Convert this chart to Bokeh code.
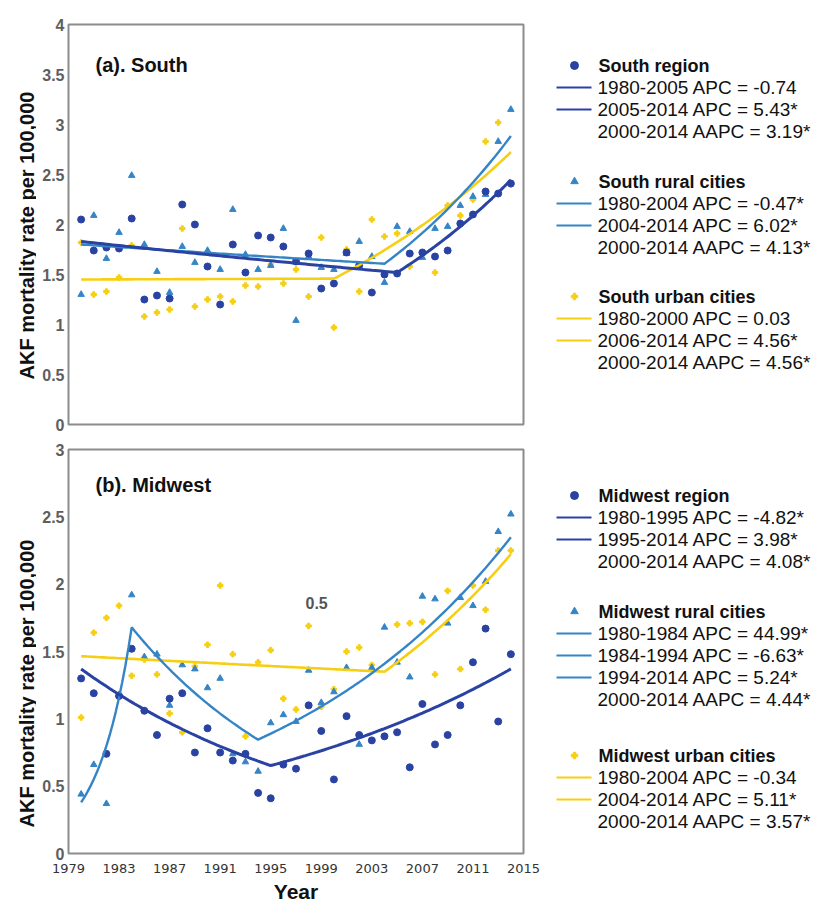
import math
import numpy as np
from bokeh.plotting import figure
from bokeh.models import Range1d, FixedTicker, CustomJSTickFormatter, Label
from bokeh.layouts import row, column
from bokeh.embed import file_html
from bokeh.resources import INLINE
from bokeh.core.properties import value

# ---------------------------------------------------------------- data
years = list(range(1980, 2015))

south_region = [2.05, 1.74, 1.77, 1.76, 2.06, 1.25, 1.29, 1.26, 2.20, 2.00,
                1.58, 1.20, 1.80, 1.52, 1.89, 1.87, 1.78, 1.63, 1.71, 1.36,
                1.41, 1.72, 1.59, 1.32, 1.50, 1.51, 1.71, 1.72, 1.68, 1.74,
                2.01, 2.10, 2.33, 2.31, 2.41]
south_rural = [1.30, 2.09, 1.66, 1.92, 2.49, 1.80, 1.53, 1.32, 1.78, 1.62,
               1.74, 1.55, 2.15, 1.70, 1.55, 1.59, 1.96, 1.04, 1.68, 1.57,
               1.55, 1.71, 1.83, 1.68, 1.42, 1.98, 1.93, 1.67, 1.96, 1.98,
               2.19, 2.28, 2.30, 2.83, 3.15]
south_urban = [1.82, 1.30, 1.33, 1.47, 1.79, 1.08, 1.12, 1.15, 1.96, 1.18,
               1.25, 1.28, 1.23, 1.39, 1.38, 1.60, 1.41, 1.55, 1.28, 1.87,
               0.97, 1.75, 1.33, 2.05, 1.88, 1.91, 1.58, 1.72, 1.52, 2.19,
               2.09, 2.25, 2.83, 3.02, 2.40]

midwest_region = [1.30, 1.19, 0.74, 1.17, 1.52, 1.06, 0.88, 1.15, 1.19, 0.75,
                  0.93, 0.75, 0.69, 0.74, 0.45, 0.41, 0.66, 0.63, 1.10, 0.91,
                  0.55, 1.02, 0.88, 0.84, 0.87, 0.90, 0.64, 1.11, 0.81, 0.88,
                  1.10, 1.42, 1.67, 0.98, 1.48]
midwest_rural = [0.44, 0.66, 0.37, 1.18, 1.92, 1.46, 1.48, 1.10, 1.40, 1.37,
                 1.23, 1.30, 0.74, 0.68, 0.61, 0.97, 1.03, 0.98, 1.36, 1.12,
                 1.20, 1.38, 0.81, 1.38, 1.68, 1.42, 1.31, 1.91, 1.89, 1.71,
                 1.90, 1.84, 2.02, 2.39, 2.52]
midwest_urban = [1.01, 1.64, 1.75, 1.84, 1.32, 1.44, 1.33, 1.04, 0.90, 1.39,
                 1.55, 1.99, 1.48, 0.87, 1.42, 1.51, 1.15, 1.07, 1.69, 1.09,
                 1.22, 1.50, 1.53, 1.40, 0.87, 1.70, 1.71, 1.72, 1.33, 1.95,
                 1.37, 1.99, 1.81, 2.25, 2.25]

# joinpoint fits: fitted rate in 1980, then (start, end, APC %) per segment
south_region_fit = (1.83, [(1980, 2005, -0.74), (2005, 2014, 5.43)])
south_rural_fit = (1.80, [(1980, 2004, -0.47), (2004, 2014, 6.02)])
south_urban_fit = (1.45, [(1980, 2000, 0.03), (2000, 2014, 4.56)])
midwest_region_fit = (1.37, [(1980, 1995, -4.82), (1995, 2014, 3.98)])
midwest_rural_fit = (0.38, [(1980, 1984, 44.99), (1984, 1994, -6.63), (1994, 2014, 5.24)])
midwest_urban_fit = (1.465, [(1980, 2004, -0.34), (2004, 2014, 5.11)])

x_ticks = [1979, 1983, 1987, 1991, 1995, 1999, 2003, 2007, 2011, 2015]

south_legend = [
    ("circle", "South region", ["1980-2005 APC = -0.74", "2005-2014 APC = 5.43*"],
     "2000-2014 AAPC = 3.19*"),
    ("triangle", "South rural cities", ["1980-2004 APC = -0.47*", "2004-2014 APC = 6.02*"],
     "2000-2014 AAPC = 4.13*"),
    ("plus", "South urban cities", ["1980-2000 APC = 0.03", "2006-2014 APC = 4.56*"],
     "2000-2014 AAPC = 4.56*"),
]
midwest_legend = [
    ("circle", "Midwest region", ["1980-1995 APC = -4.82*", "1995-2014 APC = 3.98*"],
     "2000-2014 AAPC = 4.08*"),
    ("triangle", "Midwest rural cities",
     ["1980-1984 APC = 44.99*", "1984-1994 APC = -6.63*", "1994-2014 APC = 5.24*"],
     "2000-2014 AAPC = 4.44*"),
    ("plus", "Midwest urban cities", ["1980-2004 APC = -0.34", "2004-2014 APC = 5.11*"],
     "2000-2014 AAPC = 3.57*"),
]

y_title = "AKF mortality rate per 100,000"

# ---------------------------------------------------------------- style
DARK = "#2a43a3"
MID = "#3585c6"
YELLOW = "#f7cf12"
COLORS = {"circle": DARK, "triangle": MID, "plus": YELLOW}
MSIZE = {"circle": 7, "triangle": 6.5, "plus": 5.5}
FONT_NAME = "Liberation Sans"
FONT = value(FONT_NAME)
PAGE_H = 905
TITLE_W = 36                      # strip holding the rotated y titles
LEFT, FRAME_W, RIGHT = 32, 455, 27


def joinpoint_curve(start_value, segments, step=0.25):
    xs, ys = [], []
    v0 = start_value
    for t0, t1, apc in segments:
        ts = np.arange(t0, t1 + 1e-9, step)
        vals = v0 * (1 + apc / 100.0) ** (ts - t0)
        xs.extend(ts.tolist())
        ys.extend(vals.tolist())
        v0 = vals[-1]
    return xs, ys


def make_panel(title, ymax, height, top, bottom, frame_h, series, fits, show_x, title_drop):
    p = figure(width=LEFT + FRAME_W + RIGHT, height=height,
               x_range=Range1d(1979, 2015), y_range=Range1d(0, ymax),
               output_backend="svg", toolbar_location=None,
               min_border_left=LEFT, min_border_right=RIGHT,
               min_border_top=top, min_border_bottom=bottom)
    p.outline_line_color = "#8c8c8c"
    p.outline_line_width = 2
    p.grid.visible = False

    ya = p.yaxis[0]
    ya.ticker = FixedTicker(ticks=[i * 0.5 for i in range(int(ymax * 2) + 1)])
    ya.formatter = CustomJSTickFormatter(code="return tick.toString()")
    ya.major_label_text_font = FONT_NAME
    ya.major_label_text_font_style = "bold"
    ya.major_label_text_font_size = "16px"
    ya.major_label_text_color = "#5e5e5e"
    ya.major_tick_line_color = None
    ya.minor_tick_line_color = None
    ya.major_tick_out = 0
    ya.minor_tick_out = 0
    ya.axis_line_color = None
    ya.major_label_standoff = 4

    xa = p.xaxis[0]
    xa.axis_line_color = None
    xa.major_tick_line_color = None
    xa.minor_tick_line_color = None
    xa.major_tick_out = 0
    xa.minor_tick_out = 0
    if show_x:
        xa.ticker = FixedTicker(ticks=x_ticks)
        xa.formatter = CustomJSTickFormatter(code="return tick.toString()")
        xa.major_label_text_font = "DejaVu Sans"
        xa.major_label_text_font_size = "13px"
        xa.major_label_text_color = "#333333"
        xa.major_label_standoff = 10
        xa.axis_label = "Year"
        xa.axis_label_text_font = FONT_NAME
        xa.axis_label_text_font_style = "bold"
        xa.axis_label_text_font_size = "21px"
        xa.axis_label_text_color = "#111111"
        xa.axis_label_standoff = 4
    else:
        xa.ticker = FixedTicker(ticks=[])
        xa.major_label_text_font_size = "0px"

    region, rural, urban = series
    p.scatter(years, urban, marker="plus", size=MSIZE["plus"], color=YELLOW)
    p.scatter(years, rural, marker="triangle", size=MSIZE["triangle"], color=MID)
    p.scatter(years, region, marker="circle", size=MSIZE["circle"], color=DARK)

    fx, fy = joinpoint_curve(*fits[2])
    p.line(fx, fy, color=YELLOW, line_width=2.6)
    fx, fy = joinpoint_curve(*fits[1])
    p.line(fx, fy, color=MID, line_width=2.4)
    fx, fy = joinpoint_curve(*fits[0])
    p.line(fx, fy, color=DARK, line_width=3)

    p.add_layout(Label(x=27, y=frame_h - title_drop, x_units="screen", y_units="screen",
                       text=title, text_font=FONT_NAME, text_font_style="bold",
                       text_font_size="20px", text_color="#111111",
                       text_baseline="alphabetic"))
    return p


p1 = make_panel("(a). South", 4, 437, 24, 13, 400,
                (south_region, south_rural, south_urban),
                (south_region_fit, south_rural_fit, south_urban_fit), False, 40)

p2 = make_panel("(b). Midwest", 3, 468, 12, 52, 404,
                (midwest_region, midwest_rural, midwest_urban),
                (midwest_region_fit, midwest_rural_fit, midwest_urban_fit), True, 35)
p2.add_layout(Label(x=237, y=245, x_units="screen", y_units="screen",
                    text="0.5", text_font=FONT_NAME, text_font_style="bold",
                    text_font_size="16px", text_color="#555555"))

# ---------------------------------------------------------------- y-title strip
ttl = figure(width=TITLE_W, height=PAGE_H, x_range=Range1d(0, TITLE_W),
             y_range=Range1d(0, PAGE_H), output_backend="svg", toolbar_location=None,
             min_border=0, min_border_left=0, min_border_right=0,
             min_border_top=0, min_border_bottom=0)
ttl.axis.visible = False
ttl.grid.visible = False
ttl.outline_line_color = None
ttl.text([26, 26], [PAGE_H - 235, PAGE_H - 683], text=[y_title, y_title],
         angle=math.pi / 2, text_align="center", text_baseline="middle",
         text_font=FONT, text_font_style="bold", text_font_size="20px",
         text_color="#111111")

# ---------------------------------------------------------------- legend column
LEG_X0 = TITLE_W + LEFT + FRAME_W + RIGHT
LEG_W = 816 - LEG_X0
leg = figure(width=LEG_W, height=PAGE_H, x_range=Range1d(LEG_X0, 816),
             y_range=Range1d(PAGE_H, 0), output_backend="svg", toolbar_location=None,
             min_border=0, min_border_left=0, min_border_right=0,
             min_border_top=0, min_border_bottom=0)
leg.axis.visible = False
leg.grid.visible = False
leg.outline_line_color = None

STEP = 22
MARK_X, TEXT_X, SW0, SW1 = 574, 597, 556, 591


def draw_legend(groups, header_ys):
    for (marker, header, lines, aapc), y0 in zip(groups, header_ys):
        col = COLORS[marker]
        leg.scatter([MARK_X], [y0], marker=marker, size=MSIZE[marker] + 1, color=col)
        leg.text([TEXT_X + 1], [y0], text=[header], text_font=FONT,
                 text_font_style="bold", text_font_size="18px",
                 text_baseline="middle", text_color="#111111")
        ys = [y0 + STEP * (i + 1) for i in range(len(lines))]
        leg.segment(x0=[SW0] * len(ys), y0=ys, x1=[SW1] * len(ys), y1=ys,
                    color=col, line_width=2)
        leg.text([TEXT_X] * len(ys), ys, text=lines, text_font=FONT,
                 text_font_size="19px", text_baseline="middle", text_color="#111111")
        ya = y0 + STEP * (len(lines) + 1)
        leg.text([TEXT_X], [ya], text=[aapc], text_font=FONT,
                 text_font_size="19px", text_baseline="middle", text_color="#111111")


draw_legend(south_legend, [65, 181, 296])
draw_legend(midwest_legend, [495, 611, 755])

layout = row(ttl, column(p1, p2, spacing=0), leg, spacing=0)
open("out.html", "w").write(file_html(layout, INLINE))
